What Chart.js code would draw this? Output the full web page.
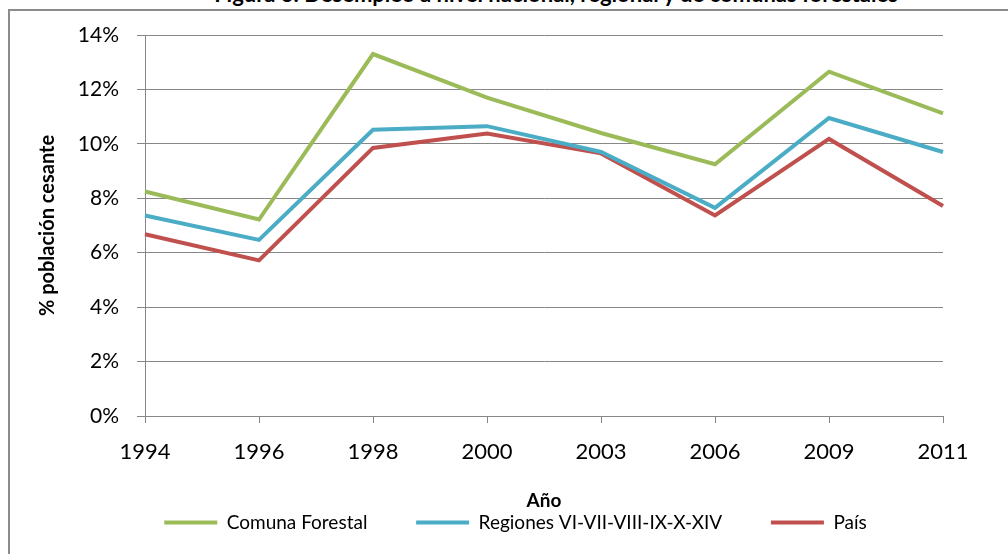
<!DOCTYPE html>
<html>
<head>
<meta charset="utf-8">
<script src="https://cdn.jsdelivr.net/npm/chart.js@4/dist/chart.umd.min.js"></script>
<style>
  body { margin: 0; background: #fff; overflow: hidden; }
  #wrap { position: relative; width: 1008px; height: 554px; overflow: hidden; }
  #frame { position: absolute; left: 8px; top: 9px; width: 1100px; height: 700px; border: 2px solid #8c8c8c; }
  #title { position: absolute; left: 0; width: 1112px; top: -17px; text-align: center;
           font: bold 22px Lato, sans-serif; line-height: 22px; color: #000; }
  #myChart { position: absolute; left: 0; top: 0; }
</style>
</head>
<body>
<div id="wrap">
  <div id="frame"></div>
  <div id="title">Figura 3. Desempleo a nivel nacional, regional y de comunas forestales</div>
  <canvas id="myChart" width="1008" height="554"></canvas>
</div>
<script>
const years = ['1994', '1996', '1998', '2000', '2003', '2006', '2009', '2011'];
const comunaForestal = [8.25, 7.22, 13.3, 11.7, 10.4, 9.25, 12.65, 11.12];
const regiones = [7.37, 6.47, 10.52, 10.65, 9.7, 7.65, 10.95, 9.7];
const pais = [6.68, 5.72, 9.85, 10.38, 9.65, 7.37, 10.18, 7.72];
const yTicks = [0, 2, 4, 6, 8, 10, 12, 14];

const gridColor = '#878787';

// shift legend a bit to the right, like the original
const legendShift = {
    id: 'legendShift',
    afterLayout(chart) {
        chart.legend.left += 26;
        chart.legend.right += 26;
    }
};

var ctx = document.getElementById('myChart').getContext('2d');
var chart = new Chart(ctx, {
    type: 'line',
    data: {
        labels: years,
        datasets: [{
            label: 'Comuna Forestal',
            borderColor: '#9BBB59',
            backgroundColor: '#9BBB59',
            data: comunaForestal
        },
        {
            label: 'Regiones VI-VII-VIII-IX-X-XIV',
            borderColor: '#4BACC6',
            backgroundColor: '#4BACC6',
            data: regiones
        },
        {
            label: 'País',
            borderColor: '#C0504D',
            backgroundColor: '#C0504D',
            data: pais
        }]
    },
    options: {
        responsive: false,
        animation: false,
        elements: {
            line: { borderWidth: 4, tension: 0 },
            point: { radius: 0 }
        },
        layout: { padding: { left: 36, right: 65, top: 35, bottom: 12 } },
        scales: {
            x: {
                offset: false,
                grid: { display: true, drawOnChartArea: false, drawTicks: true, tickLength: 7, color: gridColor },
                border: { display: true, color: gridColor },
                ticks: { color: '#000', padding: 16, maxRotation: 0, autoSkip: false,
                         font: { family: 'Lato', size: 22 } },
                title: { display: true, text: 'Año', color: '#000', padding: { top: 0, bottom: -5 },
                         font: { family: 'Lato', size: 19, weight: 'bold' } },
                afterFit(scale) { scale.height = 91; }
            },
            y: {
                min: 0,
                max: 14,
                afterBuildTicks(scale) { scale.ticks = yTicks.map(v => ({ value: v })); },
                grid: { color: gridColor, tickLength: 8 },
                border: { display: true, color: gridColor },
                ticks: { color: '#000', padding: 18, callback: v => v + '%',
                         font: { family: 'Lato', size: 21 } },
                title: { display: true, text: '% población cesante', color: '#000', padding: 0,
                         font: { family: 'Lato', size: 20, weight: 'bold' } },
                afterFit(scale) { scale.width = 109; }
            }
        },
        plugins: {
            legend: {
                position: 'bottom',
                labels: {
                    color: '#000',
                    boxWidth: 53,
                    boxHeight: 4,
                    padding: 6,
                    font: { family: 'Lato', size: 19 },
                    generateLabels(chart) {
                        const items = Chart.defaults.plugins.legend.labels.generateLabels(chart);
                        items.forEach((it, i) => {
                            it.lineWidth = 0;
                            if (i < items.length - 1) it.text = it.text + '\u2003\u2003\u2003';
                        });
                        return items;
                    }
                }
            },
            tooltip: { enabled: false }
        }
    },
    plugins: [legendShift]
});
</script>
</body>
</html>
